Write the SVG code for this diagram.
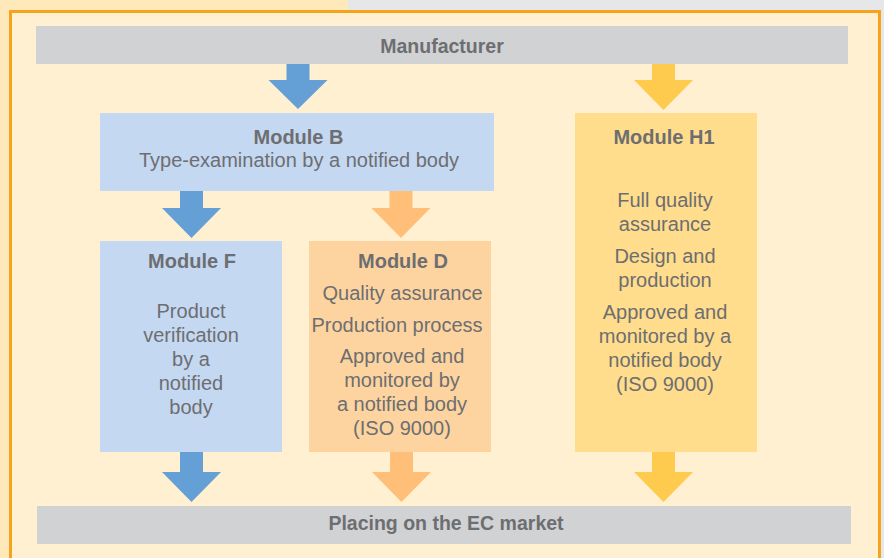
<svg xmlns="http://www.w3.org/2000/svg" width="884" height="558" viewBox="0 0 884 558">
  <style>
    text { font-family: "Liberation Sans", Arial, sans-serif; fill: #6D6E71; text-anchor: middle; }
    .t { font-size: 20px; }
    .b { font-size: 20px; font-weight: bold; }
    .bar { font-size: 19.5px; font-weight: bold; }
    .grey { fill: #D1D2D4; }
    .blue { fill: #C5D8F1; }
    .orange { fill: #FDD49F; }
    .yellow { fill: #FFDD8C; }
    .ab { fill: #64A0D6; }
    .ao { fill: #FFBF78; }
    .ay { fill: #FFCB4F; }
  </style>
  <!-- background -->
  <rect x="0" y="0" width="884" height="558" fill="#FFE8BA"/>
  <rect x="348" y="0" width="536" height="10" fill="#E6E7E9"/>
  <rect x="881" y="0" width="3" height="558" fill="#E6E7E9"/>
  <rect x="10.5" y="11.5" width="869" height="600" fill="#FFF0D2" stroke="#F7A21B" stroke-width="3"/>

  <g id="manufacturer">
    <rect class="grey" x="36" y="26" width="812" height="38"/>
    <text class="bar" x="442" y="53">Manufacturer</text>
  </g>

  <g id="module-b">
    <rect class="blue" x="100" y="113" width="394" height="78"/>
    <text class="b" x="298.5" y="144">Module B</text>
    <text class="t" x="299" y="167">Type-examination by a notified body</text>
  </g>

  <g id="module-h1">
    <rect class="yellow" x="575" y="113" width="182" height="339"/>
    <text class="b" x="664" y="144">Module H1</text>
    <text class="t" x="665" y="207">Full quality</text>
    <text class="t" x="665" y="231">assurance</text>
    <text class="t" x="665" y="263">Design and</text>
    <text class="t" x="665" y="287">production</text>
    <text class="t" x="665" y="319">Approved and</text>
    <text class="t" x="665" y="343">monitored by a</text>
    <text class="t" x="665" y="367">notified body</text>
    <text class="t" x="665" y="391">(ISO 9000)</text>
  </g>

  <g id="module-f">
    <rect class="blue" x="100" y="241" width="182" height="211"/>
    <text class="b" x="192" y="268">Module F</text>
    <text class="t" x="191" y="318">Product</text>
    <text class="t" x="191" y="342">verification</text>
    <text class="t" x="191" y="366">by a</text>
    <text class="t" x="191" y="390">notified</text>
    <text class="t" x="191" y="414">body</text>
  </g>

  <g id="module-d">
    <rect class="orange" x="309" y="241" width="182" height="211"/>
    <text class="b" x="403" y="268">Module D</text>
    <text class="t" x="402.5" y="300">Quality assurance</text>
    <text class="t" x="397" y="332">Production process</text>
    <text class="t" x="402" y="363">Approved and</text>
    <text class="t" x="402" y="387">monitored by</text>
    <text class="t" x="402" y="411">a notified body</text>
    <text class="t" x="402" y="435">(ISO 9000)</text>
  </g>

  <g id="placing">
    <rect class="grey" x="37" y="506" width="814" height="38"/>
    <text class="bar" x="446" y="530">Placing on the EC market</text>
  </g>

  <g id="connectors">
    <polygon class="ab" points="286.5,64 309.5,64 309.5,80 327.5,80 298,109 268.5,80 286.5,80"/>
    <polygon class="ay" points="652,64 675,64 675,80 693,80 663.5,110 634,80 652,80"/>
    <polygon class="ab" points="180,191 203,191 203,208 221,208 191.5,238 162,208 180,208"/>
    <polygon class="ao" points="389.5,191 412.5,191 412.5,208 430.5,208 401,238 371.5,208 389.5,208"/>
    <polygon class="ab" points="180,452 203,452 203,472 221,472 191.5,502 162,472 180,472"/>
    <polygon class="ao" points="390,452 413,452 413,472 431,472 401.5,502 372,472 390,472"/>
    <polygon class="ay" points="652,452 675,452 675,472 693,472 663.5,502 634,472 652,472"/>
  </g>
</svg>
